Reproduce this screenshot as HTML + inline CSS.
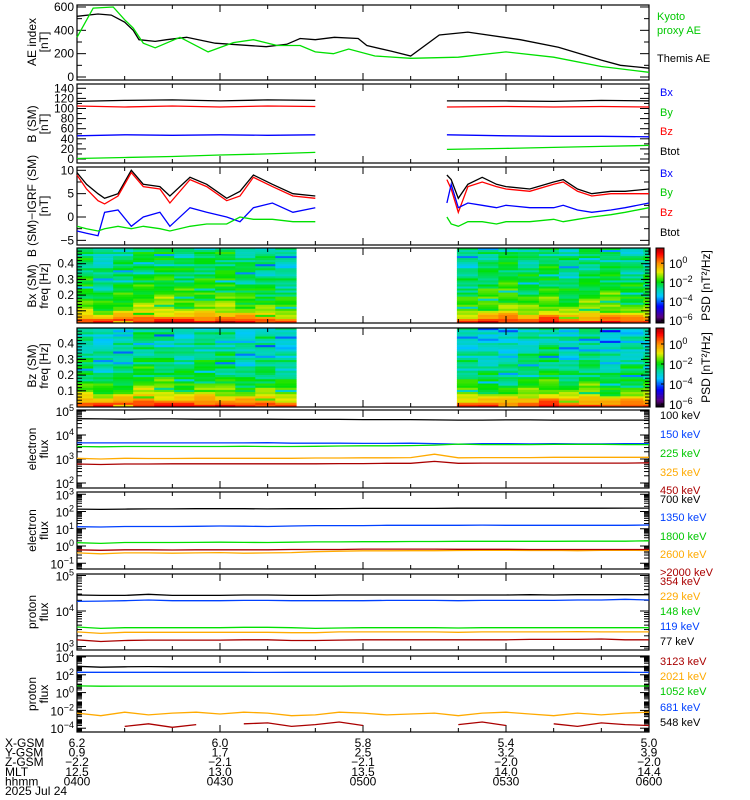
<!DOCTYPE html>
<html><head><meta charset="utf-8">
<style>
html,body{margin:0;padding:0;background:#fff;}
svg{display:block;font-family:"Liberation Sans",sans-serif;}
</style></head>
<body>
<svg id="chart" width="750" height="800" viewBox="0 0 750 800" xmlns="http://www.w3.org/2000/svg">
<rect width="750" height="800" fill="#fff"/>
</svg>
<script>
// ---- data ----
const aeGreenT=[0,3.4,7.6,10,11.8,13.9,16.4,21.6,27.5,32.8,37,42,46.8,50,53.8,57,62.5,70,80,90,100,110,120];
const aeGreen=[340,590,600,490,420,290,250,340,215,295,320,270,270,215,200,240,180,160,170,215,170,90,40];
const aeBlackT=[0,4.4,7.2,10,11.8,13,16.4,18.8,23,29,39.7,44,46.8,50,54,59,60.8,66,70,76,82,93,101,110,114,120];
const aeBlack=[520,540,530,470,400,320,305,320,340,290,260,280,330,320,340,330,270,220,180,360,385,320,255,145,100,75];

const bTL=[0,10,20,30,40,50];
const bTotL=[114,116,117,115,117,116], bZL=[105,103,105,103,105,104], bXL=[46,48,47,48,47,48], bYL=[1,3,5,8,10,13];
const bTR=[77.6,90,100,110,120];
const bTotR=[115,115,114,116,115], bZR=[103,104,103,104,103], bXR=[48,46,45,45,44], bYR=[19,21,23,25,27];

const dbTL=[0,2,4.4,5.8,8.6,11.4,13.9,17.4,19.5,23.7,27.2,31.4,34.2,37,41,45.3,50];
const dbTotL=[9.5,7,5,4,5,10,7,6.5,4.5,8.5,7,4,5.5,9,7,5,4.5];
const dbZL=[9,6,3.5,2.8,4.5,9.5,6.5,6,3,8,6.5,3.5,4.5,8.5,6.5,4.5,4];
const dbXL=[-3,-3.5,-4,1,1.5,-2,0,1,-2,2,1,0,-1,2,3,1,2];
const dbYL=[-2,-2.5,-3,-2.5,-2,-2.5,-2,-2.5,-3,-2,-1.5,-1.5,0,-0.5,-0.5,-1,-1];
const dbTR=[77.6,78.5,80,82,85,88,90,95,100,102,105,108,112,115,120];
const dbTotR=[9,8,4,7,8.5,7,6.5,6,7.5,8,6,5,5.5,5.5,6];
const dbZR=[8,6,1,6.5,7.5,6.5,6,5.5,7,7.5,5.5,4.5,5,5,5];
const dbXR=[3,7,2,3,2.5,2,2.5,2,2,2.5,1.5,1,1.5,2,3];
const dbYR=[0,-1.5,-2,-1,-1,-1.5,-1,-1,-0.5,-1,-0.5,0,0.5,1,2];

const fluxT=[0,5,10,15,20,25,30,35,40,45,50,55,60,65,70,75,80,85,90,95,100,105,110,115,120];
const e100=[4.68,4.67,4.66,4.67,4.67,4.66,4.66,4.66,4.66,4.65,4.65,4.65,4.64,4.64,4.64,4.63,4.62,4.62,4.63,4.63,4.62,4.62,4.62,4.62,4.62];
const e150=[3.67,3.67,3.67,3.67,3.67,3.67,3.67,3.67,3.68,3.66,3.66,3.66,3.65,3.65,3.66,3.64,3.62,3.64,3.64,3.63,3.64,3.63,3.63,3.64,3.64];
const e225=[3.52,3.51,3.52,3.52,3.52,3.52,3.52,3.53,3.52,3.52,3.53,3.54,3.55,3.55,3.56,3.58,3.62,3.6,3.6,3.6,3.61,3.61,3.61,3.6,3.6];
const e325=[3.03,3.0,3.03,3.02,3.02,3.03,3.03,3.03,3.03,3.03,3.04,3.04,3.05,3.05,3.06,3.2,3.05,3.06,3.06,3.06,3.07,3.07,3.07,3.07,3.07];
const e450=[2.79,2.77,2.79,2.79,2.8,2.8,2.8,2.8,2.8,2.8,2.8,2.81,2.81,2.82,2.82,2.9,2.82,2.83,2.83,2.83,2.83,2.83,2.83,2.83,2.84];
const e700=[2.14,2.12,2.14,2.15,2.15,2.16,2.16,2.16,2.15,2.16,2.16,2.17,2.18,2.18,2.18,2.18,2.19,2.19,2.19,2.19,2.19,2.19,2.19,2.2,2.2];
const e1350=[1.12,1.1,1.13,1.13,1.13,1.14,1.16,1.15,1.13,1.16,1.18,1.18,1.18,1.2,1.2,1.2,1.2,1.21,1.2,1.2,1.2,1.2,1.2,1.2,1.22];
const e1800=[0.19,0.15,0.2,0.2,0.2,0.21,0.22,0.21,0.2,0.22,0.24,0.24,0.25,0.25,0.26,0.26,0.27,0.27,0.27,0.27,0.27,0.28,0.28,0.28,0.3];
const e2600=[-0.4,-0.45,-0.4,-0.4,-0.42,-0.4,-0.38,-0.42,-0.4,-0.38,-0.33,-0.3,-0.28,-0.28,-0.27,-0.27,-0.26,-0.25,-0.25,-0.26,-0.25,-0.27,-0.25,-0.25,-0.26];
const e2000=[-0.22,-0.25,-0.22,-0.22,-0.23,-0.22,-0.22,-0.22,-0.22,-0.2,-0.2,-0.2,-0.18,-0.18,-0.18,-0.18,-0.19,-0.19,-0.19,-0.2,-0.2,-0.2,-0.2,-0.2,-0.2];
const p77=[4.45,4.44,4.44,4.47,4.44,4.44,4.44,4.45,4.45,4.44,4.44,4.45,4.45,4.45,4.45,4.45,4.45,4.45,4.45,4.46,4.45,4.46,4.46,4.46,4.46];
const p119=[4.27,4.28,4.29,4.31,4.29,4.29,4.29,4.3,4.3,4.29,4.29,4.29,4.29,4.3,4.3,4.3,4.29,4.3,4.3,4.3,4.3,4.31,4.31,4.33,4.31];
const p148=[3.55,3.51,3.53,3.53,3.53,3.53,3.53,3.54,3.54,3.53,3.51,3.52,3.53,3.53,3.53,3.53,3.52,3.53,3.53,3.53,3.53,3.53,3.53,3.53,3.53];
const p229=[3.41,3.37,3.4,3.4,3.4,3.4,3.4,3.4,3.4,3.39,3.39,3.41,3.41,3.41,3.41,3.41,3.4,3.41,3.41,3.41,3.41,3.42,3.41,3.41,3.41];
const p354=[3.19,3.14,3.17,3.18,3.18,3.18,3.18,3.19,3.19,3.17,3.17,3.18,3.19,3.19,3.19,3.19,3.19,3.19,3.19,3.2,3.2,3.2,3.21,3.19,3.19];
const p548=[2.95,2.85,2.9,2.92,2.9,2.9,2.9,2.9,2.9,2.9,2.9,2.9,2.9,2.9,2.9,2.9,2.9,2.9,2.9,2.9,2.9,2.9,2.9,2.9,2.9];
const p681=[2.28,2.28,2.28,2.28,2.28,2.28,2.28,2.28,2.27,2.28,2.28,2.28,2.28,2.28,2.28,2.28,2.28,2.28,2.28,2.28,2.28,2.28,2.28,2.28,2.27];
const p1052=[0.75,0.72,0.73,0.73,0.73,0.73,0.73,0.73,0.73,0.73,0.73,0.73,0.74,0.74,0.74,0.74,0.74,0.74,0.74,0.74,0.74,0.74,0.74,0.74,0.74];
const p2021=[-2.3,-2.6,-2.2,-2.5,-2.3,-2.2,-2.4,-2.2,-2.3,-2.6,-2.5,-2.2,-2.3,-2.5,-2.4,-2.3,-2.6,-2.3,-2.2,-2.4,-2.6,-2.3,-2.5,-2.3,-2.2];
const p3123=[-3.6,null,-3.8,-3.5,-3.9,-3.6,null,-3.5,-3.4,-3.8,-3.6,-3.3,-3.7,null,-3.9,null,-3.6,-3.3,-3.7,null,-3.5,-3.8,-3.4,-3.6,-3.7];

// spectrogram data (log10 PSD)
const specColsL=[0,3.4,7.6,11.8,16.2,20.4,24.6,29,33.2,37.4,41.6,46];
const specColsR=[79.7,84.1,88.4,92.5,96.9,101.1,105.3,109.7,114,118.8,120];
const bxRows=[-2.6,-2.7,-2.4,-2.8,-2.5,-2.3,-2.6,-2.5,-2.7,-2.4,-2.3,-2.5,-2.6,-2.3,-2.4,-2.2,-2.5,-2.3,-2.1,-2.3,-2.0,-2.2,-1.9,-2.1,-1.8,-1.9,-1.7,-1.8,-1.6,-1.6,-1.4,-1.2,-0.9,-0.5,-0.1,0.3,0.7];
const bzRows=[-2.9,-3.1,-2.8,-3.2,-2.7,-2.9,-3.3,-2.8,-3.0,-2.7,-3.1,-2.8,-2.6,-3.0,-2.7,-2.5,-2.9,-2.6,-2.4,-2.7,-2.5,-2.3,-2.6,-2.3,-2.1,-2.2,-1.9,-2.0,-1.7,-1.8,-1.5,-1.2,-0.9,-0.5,-0.2,0.2,0.5];
const bxColOff=[0.1,-0.3,0.0,0.2,0.3,0.1,0.2,0.3,0.0,-0.1,-0.3];
const bxColOffR=[-0.2,0.1,0.3,0.0,0.2,-0.2,0.1,0.2,-0.1,0.0];
const bzColOff=[0.2,-0.1,0.0,0.4,0.3,0.1,0.3,0.2,-0.1,0.1,-0.1];
const bzColOffR=[0.0,-0.1,-0.2,0.1,0.3,-0.1,0.2,-0.2,0.0,0.1];
const stripe=[0,0.3,-0.4,0.1,-0.2,0.5,-0.1,0.2,-1.2,0.0,0.4,-0.3,0.1,-0.5,0.2,0,-0.2,0.3,-0.8,0.1,0.0,-0.3,0.2,0.4,-0.1];

// ---- helpers ----
const svg=document.getElementById('chart');
const NS='http://www.w3.org/2000/svg';
const X0=77,X1=649;
function xs(t){return X0+t*(X1-X0)/120;}
function mk(tag,attrs,parent){const e=document.createElementNS(NS,tag);for(const k in attrs)e.setAttribute(k,attrs[k]);(parent||svg).appendChild(e);return e;}
function txt(s,x,y,opt,parent){const e=mk('text',Object.assign({x:x,y:y,'font-size':12,fill:'#000'},opt||{}),parent);e.textContent=s;return e;}

function panel(name,top,bot,yOf){
  const g=mk('g',{});
  
  
  g.yOf=yOf;g.top=top;g.bot=bot;
  return g;
}
function frame(g,right){
  const r=mk('rect',{x:X0,y:g.top,width:(right||X1)-X0,height:g.bot-g.top,fill:'none',stroke:'#000','stroke-width':1.2},g);
  
  
  for(let m=0;m<=120;m+=10){
    const x=xs(m),L=(m%30===0)?7:4;
    mk('line',{x1:x,x2:x,y1:g.bot,y2:g.bot-L,stroke:'#000'},g);
    mk('line',{x1:x,x2:x,y1:g.top,y2:g.top+L,stroke:'#000'},g);
  }
}
function yticks(g,majors,minors,right){
  const R=right||X1;
  majors.forEach(v=>{const y=g.yOf(v);mk('line',{x1:X0,x2:X0+9,y1:y,y2:y,stroke:'#000'},g);mk('line',{x1:R-9,x2:R,y1:y,y2:y,stroke:'#000'},g);});
  minors.forEach(v=>{const y=g.yOf(v);if(y<g.top||y>g.bot)return;mk('line',{x1:X0,x2:X0+5,y1:y,y2:y,stroke:'#000'},g);mk('line',{x1:R-5,x2:R,y1:y,y2:y,stroke:'#000'},g);});
}
function series(g,name,times,vals,color){
  let d='',pen=false;
  for(let i=0;i<times.length;i++){
    if(vals[i]===null||vals[i]===undefined){pen=false;continue;}
    const y=Math.max(g.top,Math.min(g.bot,g.yOf(vals[i])));
    d+=(pen?'L':'M')+xs(times[i]).toFixed(1)+' '+y.toFixed(1);pen=true;
  }
  const p=mk('path',{d:d,fill:'none',stroke:color,'stroke-width':1.3},g);
  
  
}
function ylabel(lines,cx,cy){
  lines.forEach((s,i)=>{const t=txt(s,0,0,{'text-anchor':'middle',transform:`translate(${cx+i*12},${cy}) rotate(-90)`,'font-size':12});
  
  });
}
function legend(items,x){
  items.forEach(([s,y,c])=>{const t=txt(s,x,y,{fill:c,'font-size':11});
  
  });
}
function logMinors(lo,hi){const a=[];for(let d=Math.floor(lo);d<hi;d++)for(let k=2;k<10;k++){const v=d+Math.log10(k);if(v>lo&&v<hi)a.push(v);}return a;}
function sup(base,exp,x,y){
  const t=mk('text',{x:x,y:y,'font-size':12,'text-anchor':'end'});
  
  
  const a=mk('tspan',{},t);a.textContent=base;
  const b=mk('tspan',{dy:-5,'font-size':9},t);b.textContent=exp;
}
function numLabels(g,vals,fmt){vals.forEach(v=>{const t=txt(fmt?fmt(v):String(v),X0-3,g.yOf(v)+4,{'text-anchor':'end'});});}
function logLabels(g,decs){decs.forEach(d=>{sup('10',String(d).replace('-','\u2212'),X0-3,g.yOf(d)+5);});}

// ---- Panel 1: AE ----
let g=panel('ae-index-panel',5,80,v=>77-v*0.1167);
frame(g);yticks(g,[0,200,400,600],[100,300,500]);
series(g,'themis-ae-line',aeBlackT,aeBlack,'#000');
series(g,'kyoto-proxy-ae-line',aeGreenT,aeGreen,'#00e000');
numLabels(g,[0,200,400,600]);
ylabel(['AE index','[nT]'],36,42);
legend([['Kyoto',20,'#00c800'],['proxy AE',34,'#00c800'],['Themis AE',62,'#000']],657);

// ---- Panel 2: B ----
g=panel('b-sm-panel',84,163,v=>159-v*0.505);
frame(g);yticks(g,[0,20,40,60,80,100,120,140],[10,30,50,70,90,110,130]);
[[bTL,bTotL,bZL,bXL,bYL],[bTR,bTotR,bZR,bXR,bYR]].forEach(([t,a,b,c,d])=>{
  series(g,'btot-line',t,a,'#000');series(g,'bz-line',t,b,'#f00');series(g,'bx-line',t,c,'#0000ff');series(g,'by-line',t,d,'#00e000');});
numLabels(g,[0,20,40,60,80,100,120,140]);
ylabel(['B (SM)','[nT]'],36,124);
legend([['Bx',96,'#0000ff'],['By',116,'#00c800'],['Bz',135,'#f00'],['Btot',155,'#000']],660);

// ---- Panel 3: dB ----
g=panel('b-minus-igrf-panel',167,245,v=>217-v*4.67);
frame(g);yticks(g,[-5,0,5,10],[-2.5,2.5,7.5]);
[[dbTL,dbTotL,dbZL,dbXL,dbYL],[dbTR,dbTotR,dbZR,dbXR,dbYR]].forEach(([t,a,b,c,d])=>{
  series(g,'dbtot-line',t,a,'#000');series(g,'dbz-line',t,b,'#f00');series(g,'dbx-line',t,c,'#0000ff');series(g,'dby-line',t,d,'#00e000');});
numLabels(g,[-5,0,5,10],v=>String(v).replace('-','\u2212'));
ylabel(['B (SM)\u2212IGRF (SM)','[nT]'],36,206);
legend([['Bx',177,'#0000ff'],['By',196,'#00c800'],['Bz',216,'#f00'],['Btot',236,'#000']],660);

// ---- spectrograms ----
const cstops=[[0,[0,0,0]],[0.08,[90,0,130]],[0.22,[0,0,255]],[0.36,[0,200,255]],[0.45,[0,215,170]],[0.55,[0,225,0]],[0.68,[235,235,0]],[0.8,[255,140,0]],[0.92,[255,0,0]],[1,[160,0,0]]];
const LMIN=-6.3,LMAX=1.6;
function cmap(v){let t=(v-LMIN)/(LMAX-LMIN);t=Math.max(0,Math.min(1,t));
  for(let i=1;i<cstops.length;i++){if(t<=cstops[i][0]){const [a,ca]=cstops[i-1],[b,cb]=cstops[i];const f=(t-a)/(b-a);return 'rgb('+ca.map((c,k)=>Math.round(c+(cb[k]-c)*f)).join(',')+')';}}return 'rgb(160,0,0)';}
function spec(name,top,bot,rows,offL,offR,label){
  const gg=panel(name,top,bot,f=>top+(0.5-f)*157);
  const n=rows.length,h=(bot-top)/n;
  [[specColsL,offL],[specColsR,offR]].forEach(([cols,off],side)=>{
    for(let c=0;c<cols.length-1;c++){
      const x0=xs(cols[c]),x1=xs(cols[c+1]);
      for(let r=0;r<n;r++){
        const v=rows[r]+off[c]+stripe[(r*7+c*3+side*5)%stripe.length];
        const cell=mk('rect',{x:x0.toFixed(1),y:(top+r*h).toFixed(2),width:(x1-x0+0.3).toFixed(1),height:(h+0.3).toFixed(2),fill:cmap(v)},gg);
        
        
      }
    }
  });
  frame(gg,X1+1);
  const maj=[0.1,0.2,0.3,0.4],mi=[];for(let f=0.02;f<0.5;f+=0.02)mi.push(f);
  yticks(gg,maj,mi,X1+1);
  maj.forEach(f=>{const t=txt(f.toFixed(1),X0-3,gg.yOf(f)+4,{'text-anchor':'end'});});
  ylabel([label,'freq [Hz]'],36,top+38);
  const cb=mk('g',{},gg);
  const steps=60;for(let i=0;i<steps;i++){const v=LMAX-(i+0.5)*(LMAX-LMIN)/steps;mk('rect',{x:656,y:top+i*(bot-top)/steps,width:8,height:(bot-top)/steps+0.3,fill:cmap(v)},cb);}
  mk('rect',{x:656,y:top,width:8,height:bot-top,fill:'none',stroke:'#000'},cb);
  const cy=v=>top+(LMAX-v)/(LMAX-LMIN)*(bot-top);
  [0,-2,-4,-6].forEach(d=>{mk('line',{x1:661,x2:664,y1:cy(d),y2:cy(d),stroke:'#000'},cb);
    const t=mk('text',{x:669,y:cy(d)+5,'font-size':12},cb);
    const a=mk('tspan',{},t);a.textContent='10';const b=mk('tspan',{dy:-5,'font-size':9},t);b.textContent=String(d).replace('-','\u2212');});
  const lt=txt('PSD [nT\u00b2/Hz]',0,0,{'text-anchor':'middle',transform:`translate(710,${(top+bot)/2}) rotate(-90)`});
  
}
spec('bx-spectrogram-panel',248,323,bxRows,bxColOff,bxColOffR,'Bx (SM)');
spec('bz-spectrogram-panel',328,407,bzRows,bzColOff,bzColOffR,'Bz (SM)');

// ---- flux panels ----
function fluxPanel(name,top,bot,yOf,lo,hi,decs,sers,label,leg){
  const gg=panel(name,top,bot,yOf);
  frame(gg);yticks(gg,decs,logMinors(lo,hi));
  sers.forEach(([n,v,c])=>series(gg,n,fluxT,v,c));
  logLabels(gg,decs);
  ylabel(label,36,(top+bot)/2);
  legend(leg,660);
}
fluxPanel('electron-flux-low-panel',410,488,v=>483-(v-2)*24,1.8,5.1,[2,3,4,5],
  [['e-100kev',e100,'#000'],['e-150kev',e150,'#0040ff'],['e-225kev',e225,'#00e000'],['e-325kev',e325,'#ffaa00'],['e-450kev',e450,'#aa0000']],
  ['electron','flux'],[['100 keV',419,'#000'],['150 keV',438,'#0040ff'],['225 keV',457,'#00c800'],['325 keV',476,'#ffaa00'],['450 keV',494,'#aa0000']]);
fluxPanel('electron-flux-high-panel',492,569,v=>546-v*17.25,-1.35,3.1,[-1,0,1,2,3],
  [['e-700kev',e700,'#000'],['e-1350kev',e1350,'#0040ff'],['e-1800kev',e1800,'#00e000'],['e-2600kev',e2600,'#ffaa00'],['e-gt2000kev',e2000,'#aa0000']],
  ['electron','flux'],[['700 keV',503,'#000'],['1350 keV',521,'#0040ff'],['1800 keV',540,'#00c800'],['2600 keV',558,'#ffaa00'],['>2000 keV',576,'#aa0000']]);
fluxPanel('proton-flux-low-panel',574,650,v=>611-(v-4)*35.5,2.9,5.05,[3,4,5],
  [['p-77kev',p77,'#000'],['p-119kev',p119,'#0040ff'],['p-148kev',p148,'#00e000'],['p-229kev',p229,'#ffaa00'],['p-354kev',p354,'#aa0000']],
  ['proton','flux'],[['354 keV',585,'#aa0000'],['229 keV',600,'#ffaa00'],['148 keV',615,'#00c800'],['119 keV',630,'#0040ff'],['77 keV',645,'#000']]);
fluxPanel('proton-flux-high-panel',656,732,v=>657+(4-v)*8.9,-4.4,4.05,[-4,-2,0,2,4],
  [['p-548kev',p548,'#000'],['p-681kev',p681,'#0040ff'],['p-1052kev',p1052,'#00e000'],['p-2021kev',p2021,'#ffaa00'],['p-3123kev',p3123,'#aa0000']],
  ['proton','flux'],[['3123 keV',665,'#aa0000'],['2021 keV',680,'#ffaa00'],['1052 keV',695,'#00c800'],['681 keV',711,'#0040ff'],['548 keV',726,'#000']]);

// ---- bottom ephemeris ----
const ephNames=['X-GSM','Y-GSM','Z-GSM','MLT','hhmm'];
const ephTicks=[0,30,60,90,120];
const ephVals=[['6.2','6.0','5.8','5.4','5.0'],['0.9','1.7','2.5','3.2','3.9'],['\u22122.2','\u22122.1','\u22122.1','\u22122.0','\u22122.0'],['12.5','13.0','13.5','14.0','14.4'],['0400','0430','0500','0530','0600']];
ephNames.forEach((n,i)=>{const y=747+i*9.6;
  const t=txt(n,5,y,{'font-size':12});
  ephTicks.forEach((m,j)=>{const v=txt(ephVals[i][j],xs(m),y,{'text-anchor':'middle','font-size':12});});
});
const dt=txt('2025 Jul 24',5,795,{'font-size':12});


</script>
</body></html>
